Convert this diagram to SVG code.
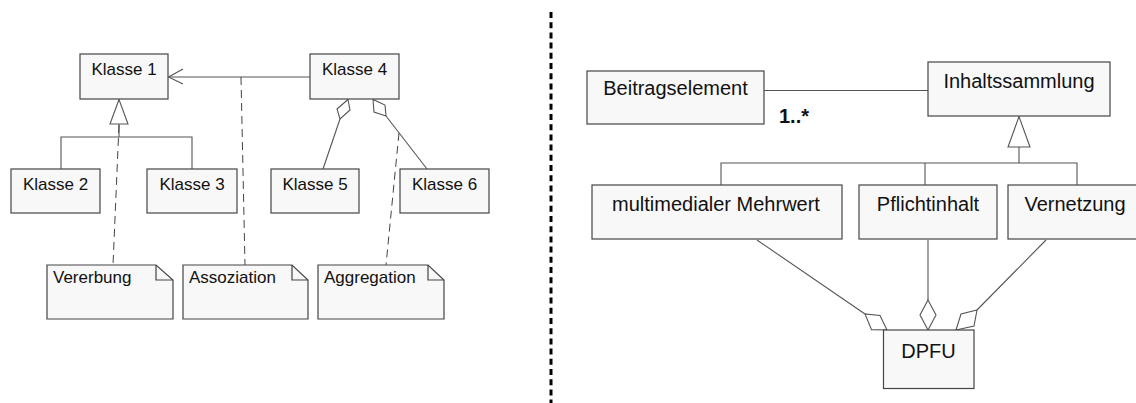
<svg xmlns="http://www.w3.org/2000/svg" width="1136" height="403" viewBox="0 0 1136 403">
  <style>
    .box { fill: #f8f8f8; stroke: #454545; stroke-width: 1.2; }
    .note { fill: #f8f8f8; stroke: #454545; stroke-width: 1.2; stroke-linejoin: miter; }
    .fold { fill: none; stroke: #454545; stroke-width: 1.2; }
    .line { fill: none; stroke: #555; stroke-width: 1.1; }
    .dash { fill: none; stroke: #444; stroke-width: 1; stroke-dasharray: 8 5; }
    .head { fill: #fff; stroke: #555; stroke-width: 1.1; }
    .sep { stroke: #000; stroke-width: 3; stroke-dasharray: 6 4.2; }
    .t17 { font-family: "Liberation Sans", Arial, sans-serif; font-size: 17px; fill: #111; }
    .t20 { font-family: "Liberation Sans", Arial, sans-serif; font-size: 20px; fill: #111; }
    .c { text-anchor: middle; }
  </style>

  <!-- separator between the two diagrams -->
  <line class="sep" x1="551" y1="12" x2="551" y2="403"/>

  <!-- connectors -->
  <g id="connectors">
    <!-- left: generalization Klasse 2/3 -> Klasse 1 -->
    <polyline class="line" points="61,169 61,137 192,137 192,169"/>
    <line class="line" x1="119" y1="124" x2="119" y2="137"/>
    <polygon class="head" points="119,99.5 110,124 128,124"/>
    <!-- left: association Klasse 4 -> Klasse 1 -->
    <line class="line" x1="310" y1="77" x2="168.5" y2="77"/>
    <polyline class="line" points="183,69 168.5,77 183,84"/>
    <!-- left: aggregations Klasse 5/6 -> Klasse 4 -->
    <line class="line" x1="340" y1="119" x2="323" y2="169"/>
    <polygon class="head" points="348,99.5 337,109 340,119 350,110"/>
    <line class="line" x1="386" y1="116" x2="427" y2="169"/>
    <polygon class="head" points="373,99.5 374,112 386,116 385,105"/>
    <!-- note anchors -->
    <line class="dash" x1="119" y1="125" x2="113" y2="265"/>
    <line class="dash" x1="241" y1="77" x2="245" y2="265"/>
    <line class="dash" x1="399" y1="133" x2="386" y2="265"/>

    <!-- right: association Beitragselement - Inhaltssammlung -->
    <line class="line" x1="764" y1="90.5" x2="928" y2="90.5"/>
    <!-- right: generalization -> Inhaltssammlung -->
    <polyline class="line" points="721,185 721,163 1077,163 1077,185"/>
    <line class="line" x1="925" y1="163" x2="925" y2="185"/>
    <line class="line" x1="1019" y1="147" x2="1019" y2="163"/>
    <polygon class="head" points="1019,116.5 1008,147 1030,147"/>
    <!-- right: aggregations -> DPFU -->
    <line class="line" x1="757" y1="240" x2="865" y2="314"/>
    <polygon class="head" points="887,330 880,315.5 865,314 871.5,329.6"/>
    <line class="line" x1="928" y1="240" x2="928" y2="300"/>
    <polygon class="head" points="928,300 936,315 928,330 920,315"/>
    <line class="line" x1="1046" y1="240" x2="977" y2="310"/>
    <polygon class="head" points="956,330 974,326 977,310 961,314"/>
  </g>

  <!-- left diagram: classes -->
  <g id="klasse1"><rect class="box" x="80" y="54" width="88" height="45"/><text class="t17 c" x="124" y="75">Klasse 1</text></g>
  <g id="klasse2"><rect class="box" x="11" y="169" width="89" height="44"/><text class="t17 c" x="55.5" y="190">Klasse 2</text></g>
  <g id="klasse3"><rect class="box" x="147" y="169" width="90" height="44"/><text class="t17 c" x="192" y="190">Klasse 3</text></g>
  <g id="klasse4"><rect class="box" x="310" y="54" width="89" height="45"/><text class="t17 c" x="354.5" y="75">Klasse 4</text></g>
  <g id="klasse5"><rect class="box" x="271" y="169" width="88" height="44"/><text class="t17 c" x="315" y="190">Klasse 5</text></g>
  <g id="klasse6"><rect class="box" x="400" y="169" width="89" height="44"/><text class="t17 c" x="444.5" y="190">Klasse 6</text></g>

  <!-- left diagram: notes -->
  <g id="note-vererbung">
    <path class="note" d="M47,265 H156 L173,280 V319 H47 Z"/>
    <path class="fold" d="M156,265 V280 H173"/>
    <text class="t17" x="53" y="283">Vererbung</text>
  </g>
  <g id="note-assoziation">
    <path class="note" d="M183,265 H292 L308,280 V319 H183 Z"/>
    <path class="fold" d="M292,265 V280 H308"/>
    <text class="t17" x="189" y="283">Assoziation</text>
  </g>
  <g id="note-aggregation">
    <path class="note" d="M318,265 H428 L444,280 V319 H318 Z"/>
    <path class="fold" d="M428,265 V280 H444"/>
    <text class="t17" x="324" y="283">Aggregation</text>
  </g>

  <!-- right diagram -->
  <g id="beitragselement"><rect class="box" x="587" y="71" width="177" height="53"/><text class="t20 c" x="675.5" y="95">Beitragselement</text></g>
  <text class="t20" x="779" y="123" font-weight="bold">1..*</text>
  <g id="inhaltssammlung"><rect class="box" x="928" y="62" width="182" height="54"/><text class="t20 c" x="1019" y="88">Inhaltssammlung</text></g>
  <g id="mehrwert"><rect class="box" x="592" y="185" width="250" height="54"/><text class="t20 c" x="716" y="211">multimedialer Mehrwert</text></g>
  <g id="pflichtinhalt"><rect class="box" x="859" y="185" width="138" height="54"/><text class="t20 c" x="928" y="211">Pflichtinhalt</text></g>
  <g id="vernetzung"><rect class="box" x="1008" y="185" width="134" height="54"/><text class="t20 c" x="1075" y="211">Vernetzung</text></g>
  <g id="dpfu"><rect class="box" x="883.5" y="330" width="90.5" height="58.5"/><text class="t20 c" x="928.5" y="358">DPFU</text></g>
</svg>
